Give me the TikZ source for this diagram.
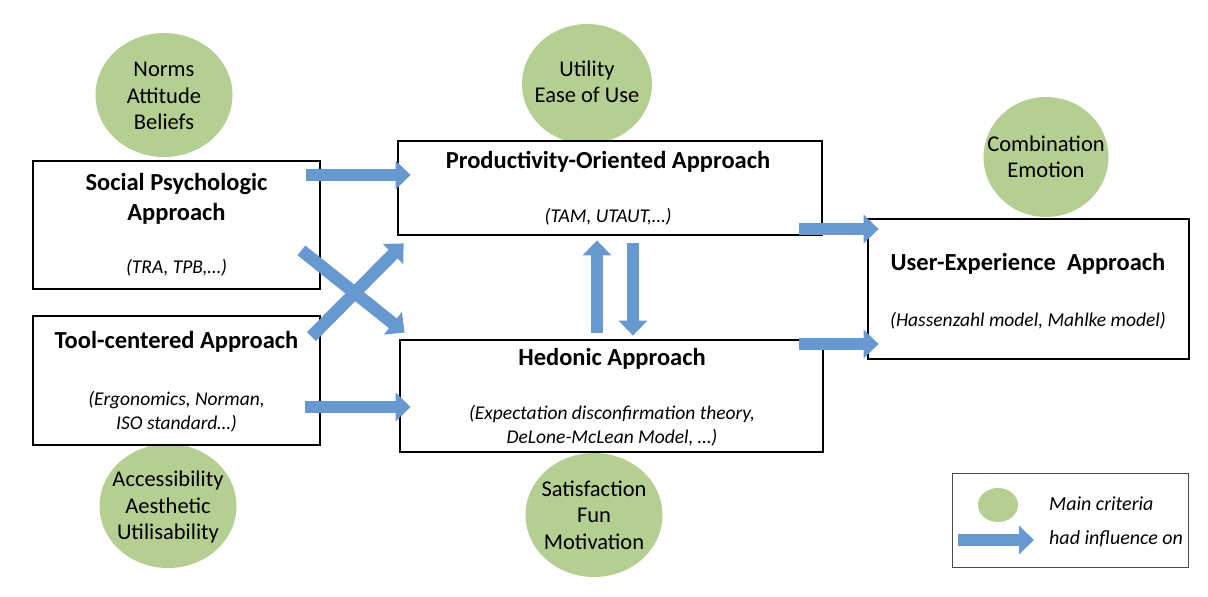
\documentclass[tikz,border=0pt]{standalone}
\usepackage{fontspec}
\setmainfont{Carlito}
\usetikzlibrary{arrows.meta,shapes.geometric}
\definecolor{crit}{RGB}{181,206,146}
\definecolor{arr}{RGB}{104,152,208}
\tikzset{
  box/.style={draw=black, line width=2.8pt, fill=white, inner sep=0pt},
  lgbox/.style={draw=black!70, line width=1pt, fill=white, inner sep=0pt},
  crit/.style={ellipse, fill=crit, inner sep=0pt},
  ttl/.style={font=\fontsize{24.5}{30}\selectfont\bfseries, align=center, inner sep=0pt},
  sub/.style={font=\fontsize{19.5}{24}\selectfont\itshape, align=center, inner sep=0pt},
  ctext/.style={font=\fontsize{22.5}{26.5}\selectfont, align=center, inner sep=0pt},
  ltext/.style={font=\fontsize{20}{20}\selectfont\itshape, anchor=west, inner sep=0pt},
  blk/.style={draw=arr, line width=12.5pt, line cap=butt,
    -{Triangle[width=28pt, length=15pt]}},
}
\begin{document}
\begin{tikzpicture}[x=1pt, y=-1pt]
\useasboundingbox (0,0) rectangle (1208,597);
% criteria circles
\node[crit, minimum width=137pt, minimum height=124pt] (c1) at (164,95) {};
\node[crit, minimum width=130pt, minimum height=120pt] (c2) at (587,84) {};
\node[crit, minimum width=125pt, minimum height=120pt] (c3) at (1046,157) {};
\node[crit, minimum width=137pt, minimum height=124pt] (c4) at (168,506) {};
\node[crit, minimum width=137pt, minimum height=124pt] (c5) at (594,515) {};
\node[ctext] (t1) at (164,96) {Norms\\Attitude\\Beliefs};
\node[ctext] (t2) at (587,82) {Utility\\Ease of Use};
\node[ctext] (t3) at (c3) {Combination\\Emotion};
\node[ctext] (t4) at (168,507) {Accessibility\\Aesthetic\\Utilisability};
\node[ctext] (t5) at (c5) {Satisfaction\\Fun\\Motivation};
% boxes
\node[box, minimum width=287pt, minimum height=128pt] (sp) at (176.5,225) {};
\node[box, minimum width=287pt, minimum height=129pt] (tc) at (176.5,380.5) {};
\node[box, minimum width=424pt, minimum height=94pt] (po) at (610,188) {};
\node[box, minimum width=423pt, minimum height=112pt] (he) at (611.5,396) {};
\node[box, minimum width=321pt, minimum height=140pt] (ux) at (1028.5,289) {};
\node[lgbox, minimum width=236pt, minimum height=94pt] (lg) at (1070,520) {};
% box texts
\node[ttl] (sp1) at (176.5,199) {Social Psychologic\\Approach};
\node[sub] (sp2) at (176.5,268) {(TRA, TPB,…)};
\node[ttl] (tc1) at (176.5,342) {Tool-centered Approach};
\node[sub] (tc2) at (176.5,412) {(Ergonomics, Norman,\\ISO standard…)};
\node[ttl] (po1) at (608,162) {Productivity-Oriented Approach};
\node[sub] (po2) at (608,217) {(TAM, UTAUT,…)};
\node[ttl] (he1) at (612,359) {Hedonic Approach};
\node[sub] (he2) at (612,426) {(Expectation disconfirmation theory,\\DeLone-McLean Model, …)};
\node[ttl] (ux1) at (1028,264) {User-Experience\ \ Approach};
\node[sub] (ux2) at (1028,321) {(Hassenzahl model, Mahlke model)};
% legend
\node[crit, minimum width=40pt, minimum height=34pt] (lc) at (998,505) {};
\node[ltext] (lt1) at (1049,504) {Main criteria};
\node[ltext] (lt2) at (1049,539) {had influence on};
\coordinate (la1) at (958,540);
\coordinate (la2) at (1034,540);
% arrows
\draw[blk] ([xshift=-15pt,yshift=50pt]sp.east) -- ([xshift=14pt,yshift=13pt]po.west);
\draw[blk] ([xshift=-16pt,yshift=-26.5pt]tc.east) -- ([xshift=12pt,yshift=-11pt]he.west);
\draw[blk] ([xshift=-20pt,yshift=40pt]sp.south east) -- ([xshift=6pt,yshift=6pt]he.north west);
\draw[blk] ([xshift=-10pt,yshift=-22pt]tc.north east) -- ([xshift=7pt,yshift=-7pt]po.south west);
\draw[blk] ([xshift=-14.5pt,yshift=6pt]he.north) -- ([xshift=-13pt,yshift=-4pt]po.south);
\draw[blk] ([xshift=23pt,yshift=-7pt]po.south) -- ([xshift=21.5pt,yshift=3pt]he.north);
\draw[blk] ([xshift=-24pt,yshift=-41pt]po.east) -- ([xshift=12pt,yshift=60pt]ux.west);
\draw[blk] ([xshift=-25pt,yshift=52pt]he.east) -- ([xshift=12pt,yshift=-55pt]ux.west);
\draw[blk] (la1) -- (la2);
\end{tikzpicture}
\end{document}
